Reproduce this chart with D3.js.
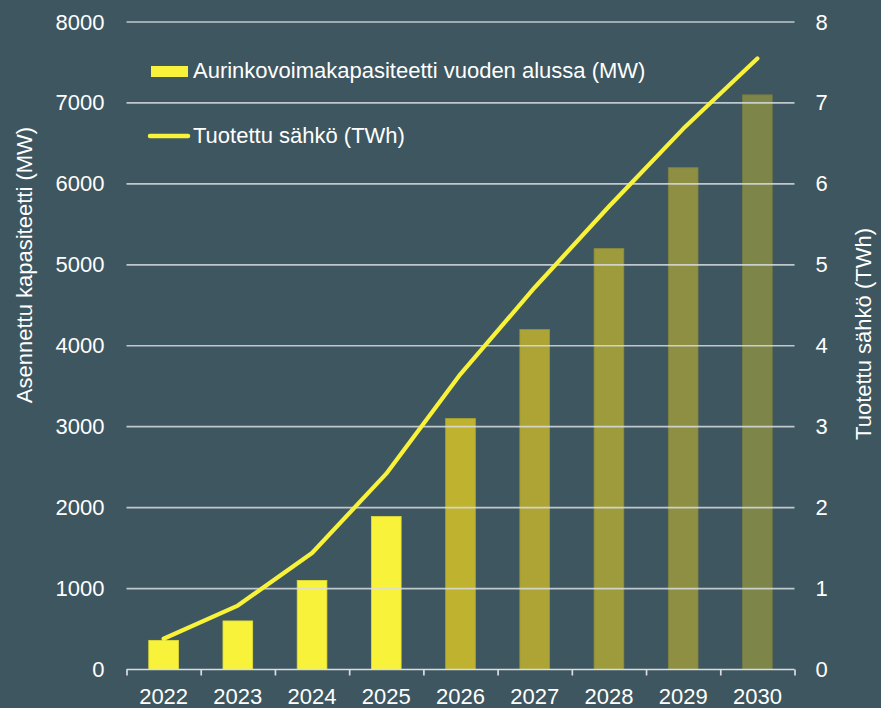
<!DOCTYPE html>
<html><head><meta charset="utf-8">
<script src="https://cdn.jsdelivr.net/npm/d3@7"></script>
<style>
html,body{margin:0;padding:0;background:#3e5660;}
svg{display:block;font-family:"Liberation Sans",Arial,sans-serif;}
</style></head><body>
<svg id="c" width="881" height="708"></svg>
<script>
const years = ["2022","2023","2024","2025","2026","2027","2028","2029","2030"];
const capacityMW = [360, 600, 1100, 1890, 3100, 4200, 5200, 6200, 7100];
const energyTWh = [0.38, 0.79, 1.44, 2.42, 3.65, 4.72, 5.72, 6.68, 7.55];
const barColors = ["#f8f23a","#f8f23a","#f8f23a","#f8f23a","#bfb22f","#ada435","#9e9b3c","#8e8f42","#7e8548"];
const leftTicks = [0,1000,2000,3000,4000,5000,6000,7000,8000];
const rightTicks = [0,1,2,3,4,5,6,7,8];
const legendLabels = ["Aurinkovoimakapasiteetti vuoden alussa (MW)","Tuotettu sähkö (TWh)"];
const leftTitle = "Asennettu kapasiteetti (MW)";
const rightTitle = "Tuotettu sähkö (TWh)";

const svg = d3.select("#c");
const X0 = 126.5, X1 = 794.5, Y0 = 669.5, Y1 = 22;
const textColor = "#ffffff", gridColor = "#d9dde0", fs = 22;

const x = d3.scaleBand().domain(years).range([X0, X1]).paddingInner(0.6).paddingOuter(0.3);
const yL = d3.scaleLinear().domain([0, 8000]).range([Y0, Y1]);
const yR = d3.scaleLinear().domain([0, 8]).range([Y0, Y1]);
const idx = d3.scaleLinear().domain([0, years.length]).range([X0, X1]);

// bars
svg.append("g").selectAll("rect").data(years).join("rect")
  .attr("x", d => x(d))
  .attr("width", x.bandwidth())
  .attr("y", (d,i) => yL(capacityMW[i]))
  .attr("height", (d,i) => Y0 - yL(capacityMW[i]))
  .attr("fill", (d,i) => barColors[i])
  .attr("stroke", (d,i) => d3.color(barColors[i]).darker(0.25))
  .attr("stroke-width", 0.8);

// gridlines (on top, semi transparent)
svg.append("g").selectAll("line").data(leftTicks.slice(1)).join("line")
  .attr("x1", X0).attr("x2", X1)
  .attr("y1", d => yL(d)).attr("y2", d => yL(d))
  .attr("stroke", gridColor).attr("stroke-width", 1.7).attr("opacity", 0.85);

// bottom axis line and boundary ticks
const ax = svg.append("g").attr("transform", `translate(0,${Y0})`);
ax.call(d3.axisBottom(idx).tickValues(d3.range(years.length + 1)).tickSize(6).tickFormat(""));
ax.select(".domain").attr("stroke", gridColor).attr("stroke-width", 1.7).attr("d", `M${X0},0H${X1}`);
ax.selectAll(".tick line").attr("stroke", gridColor).attr("stroke-width", 1.7);

// x labels
const xl = svg.append("g").attr("transform", `translate(0,${Y0})`)
  .call(d3.axisBottom(x).tickSize(0).tickPadding(0));
xl.select(".domain").remove();
xl.selectAll("text").attr("y", 34.5).attr("dy", null).attr("fill", textColor)
  .attr("font-size", fs).attr("font-family", "Liberation Sans, Arial, sans-serif");

// left axis labels
const la = svg.append("g").attr("transform", `translate(${X0},0)`)
  .call(d3.axisLeft(yL).tickValues(leftTicks).tickSize(0).tickPadding(22).tickFormat(d3.format("d")));
la.select(".domain").remove();
la.selectAll("text").attr("fill", textColor).attr("font-size", fs).attr("font-family", "Liberation Sans, Arial, sans-serif");

// right axis labels
const ra = svg.append("g").attr("transform", `translate(${X1},0)`)
  .call(d3.axisRight(yR).tickValues(rightTicks).tickSize(0).tickPadding(21).tickFormat(d3.format("d")));
ra.select(".domain").remove();
ra.selectAll("text").attr("fill", textColor).attr("font-size", fs).attr("font-family", "Liberation Sans, Arial, sans-serif");

// line
const line = d3.line().x((d,i) => x(years[i]) + x.bandwidth()/2).y(d => yR(d));
svg.append("path").datum(energyTWh).attr("d", line)
  .attr("fill", "none").attr("stroke", "#f8f23a").attr("stroke-width", 4.2)
  .attr("stroke-linecap", "round").attr("stroke-linejoin", "round");

// axis titles
svg.append("text").attr("transform", "translate(32,265) rotate(-90)")
  .attr("text-anchor", "middle").attr("fill", textColor).attr("font-size", fs).text(leftTitle);
svg.append("text").attr("transform", "translate(871,334) rotate(-90)")
  .attr("text-anchor", "middle").attr("fill", textColor).attr("font-size", fs).text(rightTitle);

// legend
const lg = svg.append("g");
lg.append("rect").attr("x", 151).attr("y", 66).attr("width", 37).attr("height", 11).attr("fill", "#f8f23a");
lg.append("text").attr("x", 193).attr("y", 77.5).attr("fill", textColor).attr("font-size", fs).text(legendLabels[0]);
lg.append("line").attr("x1", 150).attr("x2", 188).attr("y1", 136).attr("y2", 136)
  .attr("stroke", "#f8f23a").attr("stroke-width", 4.5).attr("stroke-linecap", "round");
lg.append("text").attr("x", 193).attr("y", 143).attr("fill", textColor).attr("font-size", fs).text(legendLabels[1]);
</script>
</body></html>
